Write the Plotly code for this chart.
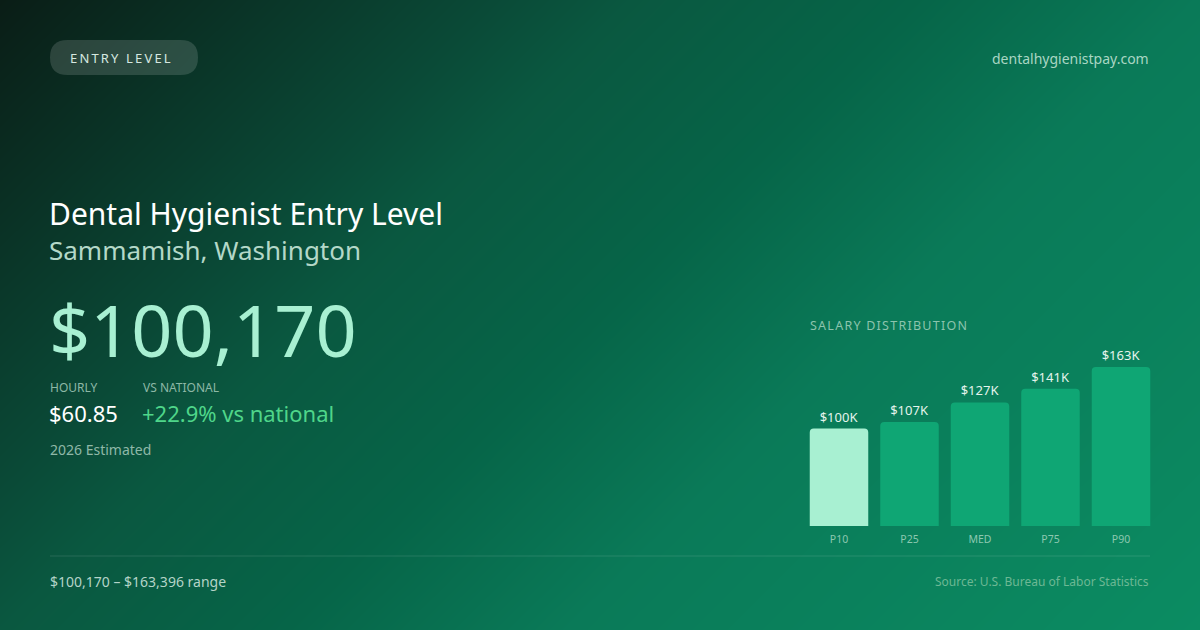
import numpy as np
import plotly.graph_objects as go

W, H = 1200, 630

# salary distribution (annual, USD)
percentiles = ["P10", "P25", "MED", "P75", "P90"]
salaries = [100170, 107000, 127000, 141000, 163396]
bar_labels = ["$100K", "$107K", "$127K", "$141K", "$163K"]
bar_colors = ["#a8f0d2", "#0fa674", "#0fa674", "#0fa674", "#0fa674"]

title = "Dental Hygienist Entry Level"
location = "Sammamish, Washington"
headline = "$100,170"
hourly = "$60.85"
vs_national = "+22.9% vs national"
range_text = "$100,170 \u2013 $163,396 range"

FONT = "Noto Sans"


def spaced(s, sep="\u200a"):
    # poor man's letter-spacing
    return sep.join(s)


# background: css-like 135deg linear gradient, drawn as a heatmap in pixel units
gx = np.linspace(0, W, 61)
gy = np.linspace(0, H, 33)
X, Y = np.meshgrid(gx, gy)
L = 0.7071 * (W + H)
grad = 0.5 + 0.7071 * ((X - W / 2) + (Y - H / 2)) / L

bg_scale = [
    [0.0, "#0a1d16"],
    [0.27, "#0a4a37"],
    [0.345, "#0a5840"],
    [0.5, "#066548"],
    [0.655, "#0a7a58"],
    [1.0, "#0b8c62"],
]

fig = go.Figure()
fig.add_trace(go.Heatmap(
    x=gx, y=gy, z=grad, zmin=0, zmax=1, zsmooth="best",
    colorscale=bg_scale, showscale=False, hoverinfo="skip",
    xaxis="x", yaxis="y",
))

fig.add_trace(go.Bar(
    x=percentiles, y=salaries, marker=dict(color=bar_colors, line=dict(width=0)),
    text=bar_labels, textposition="outside", cliponaxis=False,
    textfont=dict(family=FONT, size=13, color="#e4f4ec"),
    xaxis="x2", yaxis="y2", hoverinfo="skip",
))

annos = []


def txt(x, y, s, size, color, anchor="left"):
    annos.append(dict(
        x=x, y=y, xref="x", yref="y", text=s, showarrow=False,
        xanchor=anchor, yanchor="middle",
        font=dict(family=FONT, size=size, color=color),
    ))


txt(68, 58, spaced("ENTRY LEVEL", "\u2009"), 13, "#d6e8e0")
txt(1151, 58, "dentalhygienistpay.com", 14, "#a9d6c3", "right")
txt(47, 213, title, 30, "#ffffff")
txt(47, 250, location, 26, "#b4d8c8")
txt(47, 329, headline, 72, "#a8f0d2")
txt(48, 387, "HOURLY", 12, "#8db8a6")
txt(141, 387, "VS NATIONAL", 12, "#8db8a6")
txt(47, 413, hourly, 22, "#ffffff")
txt(140, 413, vs_national, 22, "#4fd68a")
txt(48, 449, "2026 Estimated", 14, "#8fb8a8")
txt(808, 325, spaced("SALARY DISTRIBUTION"), 12.5, "#8cc4ad")
txt(48, 581, range_text, 14, "#b4d4c8")
txt(1151, 581, "Source: U.S. Bureau of Labor Statistics", 12, "#6db894", "right")

shapes = [
    dict(type="path", xref="x", yref="y", layer="above",
         path="M 67.5,40 L 180.5,40 Q 198,40 198,57.5 Q 198,75 180.5,75 "
              "L 67.5,75 Q 50,75 50,57.5 Q 50,40 67.5,40 Z",
         fillcolor="rgba(255,255,255,0.14)", line=dict(width=0)),
    dict(type="line", xref="x", yref="y", x0=50, x1=1150, y0=556, y1=556,
         layer="above", line=dict(color="rgba(255,255,255,0.12)", width=1)),
]

fig.update_layout(
    width=W, height=H,
    margin=dict(l=0, r=0, t=0, b=0),
    paper_bgcolor="#0a4a37", plot_bgcolor="rgba(0,0,0,0)",
    showlegend=False,
    barcornerradius=4,
    bargap=0.17,
    xaxis=dict(domain=[0, 1], range=[0, W], visible=False, fixedrange=True),
    yaxis=dict(domain=[0, 1], range=[H, 0], visible=False, fixedrange=True),
    xaxis2=dict(domain=[803.75 / W, 1156.25 / W], anchor="y2",
                showgrid=False, zeroline=False, showline=False, ticks="",
                ticklabelstandoff=5,
                tickfont=dict(family=FONT, size=10.5, color="#8cc8b0")),
    yaxis2=dict(domain=[1 - 526 / H, 1 - 367 / H], anchor="x2",
                range=[0, max(salaries)], visible=False),
    annotations=annos,
    shapes=shapes,
)

fig.write_html("out.html", config={"displayModeBar": False},
               post_script="document.body.style.margin='0';")
